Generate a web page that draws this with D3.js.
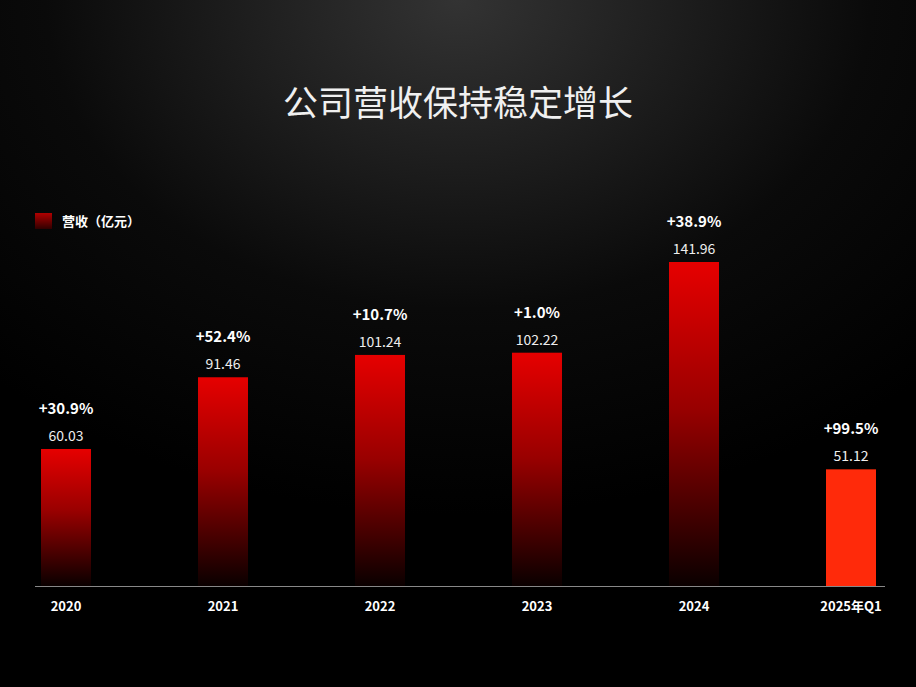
<!DOCTYPE html>
<html><head><meta charset="utf-8">
<script src="https://cdn.jsdelivr.net/npm/d3@7"></script>
<style>
body{margin:0;background:#000;}
svg{display:block;font-family:"Noto Sans CJK SC","Noto Sans",sans-serif;}
</style></head>
<body><div id="chart"></div>
<script>
const years = ["2020", "2021", "2022", "2023", "2024", "2025年Q1"];
const revenue = [60.03, 91.46, 101.24, 102.22, 141.96, 51.12];
const growth = ["+30.9%", "+52.4%", "+10.7%", "+1.0%", "+38.9%", "+99.5%"];

const W = 916, H = 687;
const svg = d3.select("#chart").append("svg").attr("width", W).attr("height", H);
const defs = svg.append("defs");

const bg = defs.append("radialGradient").attr("id", "bg")
  .attr("cx", "50%").attr("cy", "0%").attr("r", "75%");
bg.append("stop").attr("offset", "0%").attr("stop-color", "#333");
bg.append("stop").attr("offset", "60%").attr("stop-color", "#0a0a0a");
bg.append("stop").attr("offset", "100%").attr("stop-color", "#000");
svg.append("rect").attr("width", W).attr("height", H).attr("fill", "url(#bg)");

const barGrad = defs.append("linearGradient").attr("id", "barGrad")
  .attr("x1", 0).attr("y1", 0).attr("x2", 0).attr("y2", 1);
barGrad.append("stop").attr("offset", "0%").attr("stop-color", "#e60000");
barGrad.append("stop").attr("offset", "45%").attr("stop-color", "#990000");
barGrad.append("stop").attr("offset", "100%").attr("stop-color", "#0a0000");

const legGrad = defs.append("linearGradient").attr("id", "legGrad")
  .attr("x1", 0).attr("y1", 0).attr("x2", 0).attr("y2", 1);
legGrad.append("stop").attr("offset", "0%").attr("stop-color", "#b00000");
legGrad.append("stop").attr("offset", "100%").attr("stop-color", "#300000");

svg.append("text").attr("x", 458).attr("y", 116).attr("text-anchor", "middle")
  .attr("fill", "#f0f0f0").style("font-size", "35px").text("公司营收保持稳定增长");

// legend
svg.append("rect").attr("x", 35).attr("y", 213).attr("width", 17).attr("height", 16).attr("fill", "url(#legGrad)");
svg.append("text").attr("x", 62).attr("y", 226).attr("fill", "#fff")
  .style("font-size", "13px").style("font-weight", "bold").text("营收（亿元）");

const x = d3.scalePoint().domain(years).range([66, 851]);
const bw = 50;
const y = d3.scaleLinear().domain([0, 141.96]).range([586, 262]);

svg.selectAll(".bar").data(years).enter().append("rect")
  .attr("x", d => x(d) - bw / 2).attr("width", bw)
  .attr("y", (d, i) => y(revenue[i]))
  .attr("height", (d, i) => y(0) - y(revenue[i]))
  .attr("fill", (d, i) => i === years.length - 1 ? "#ff2a0a" : "url(#barGrad)");

svg.append("line").attr("x1", 35).attr("x2", 885).attr("y1", 586.5).attr("y2", 586.5)
  .attr("stroke", "#888").attr("stroke-width", 1);

svg.selectAll(".yl").data(years).enter().append("text")
  .attr("x", d => x(d)).attr("y", 611).attr("text-anchor", "middle")
  .attr("fill", "#fff").style("font-size", "13px").style("font-weight", "bold").text(d => d);

svg.selectAll(".vl").data(years).enter().append("text")
  .attr("x", d => x(d)).attr("y", (d, i) => y(revenue[i]) - 8)
  .attr("text-anchor", "middle").attr("fill", "#eee").style("font-size", "14px")
  .text((d, i) => revenue[i].toFixed(2));

svg.selectAll(".gl").data(years).enter().append("text")
  .attr("x", d => x(d)).attr("y", (d, i) => y(revenue[i]) - 35)
  .attr("text-anchor", "middle").attr("fill", "#fff").style("font-size", "15px")
  .style("font-weight", "bold").text((d, i) => growth[i]);
</script></body></html>
